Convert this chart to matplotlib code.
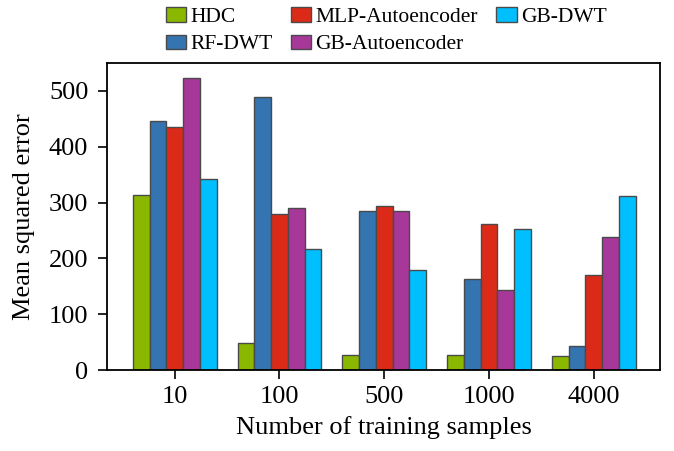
import matplotlib
matplotlib.use("Agg")
import matplotlib.pyplot as plt
import numpy as np

plt.rcParams['font.family'] = ['Liberation Serif', 'DejaVu Serif']

samples = ['10', '100', '500', '1000', '4000']
methods = ['HDC', 'RF-DWT', 'MLP-Autoencoder', 'GB-Autoencoder', 'GB-DWT']
colors = ['#8ab800', '#3474b0', '#dc2a18', '#a8379a', '#00bfff']

hdc = [314, 48, 26, 26, 25]
rf_dwt = [446, 489, 284, 163, 43]
mlp_ae = [435, 279, 293, 262, 170]
gb_ae = [523, 291, 284, 143, 239]
gb_dwt = [342, 216, 179, 252, 311]
values = [hdc, rf_dwt, mlp_ae, gb_ae, gb_dwt]

fig = plt.figure(figsize=(6.74, 4.51), dpi=100)
ax = fig.add_axes([0.1588, 0.1796, 0.8202, 0.6807])

x = np.arange(len(samples))
w = 0.16
for i, (name, vals) in enumerate(zip(methods, values)):
    ax.bar(x + (i - 2) * w, vals, w, color=colors[i], edgecolor='#4a4a4a',
           linewidth=1.0, label=name)

ax.set_xlim(-0.646, 4.63)
ax.set_ylim(0, 550)
ax.set_xticks(x)
ax.set_xticklabels(samples)
ax.set_yticks([0, 100, 200, 300, 400, 500])
ax.tick_params(axis='both', direction='out', length=6.5, width=1.2,
               labelsize=19, top=False, right=False)
ax.tick_params(axis='x', pad=5)
ax.tick_params(axis='y', pad=7)
for s in ax.spines.values():
    s.set_linewidth(1.3)

ax.set_xlabel('Number of training samples', fontsize=19, labelpad=6)
ax.set_ylabel('Mean squared error', fontsize=19, labelpad=10)

ax.legend(ncol=3, loc='lower center', bbox_to_anchor=(0.505, 1.0),
          frameon=False, fontsize=15.5, handlelength=0.95, handleheight=0.65,
          handletextpad=0.2, columnspacing=0.85, labelspacing=0.35,
          borderaxespad=0.0)

plt.savefig('out.png', dpi=100)
